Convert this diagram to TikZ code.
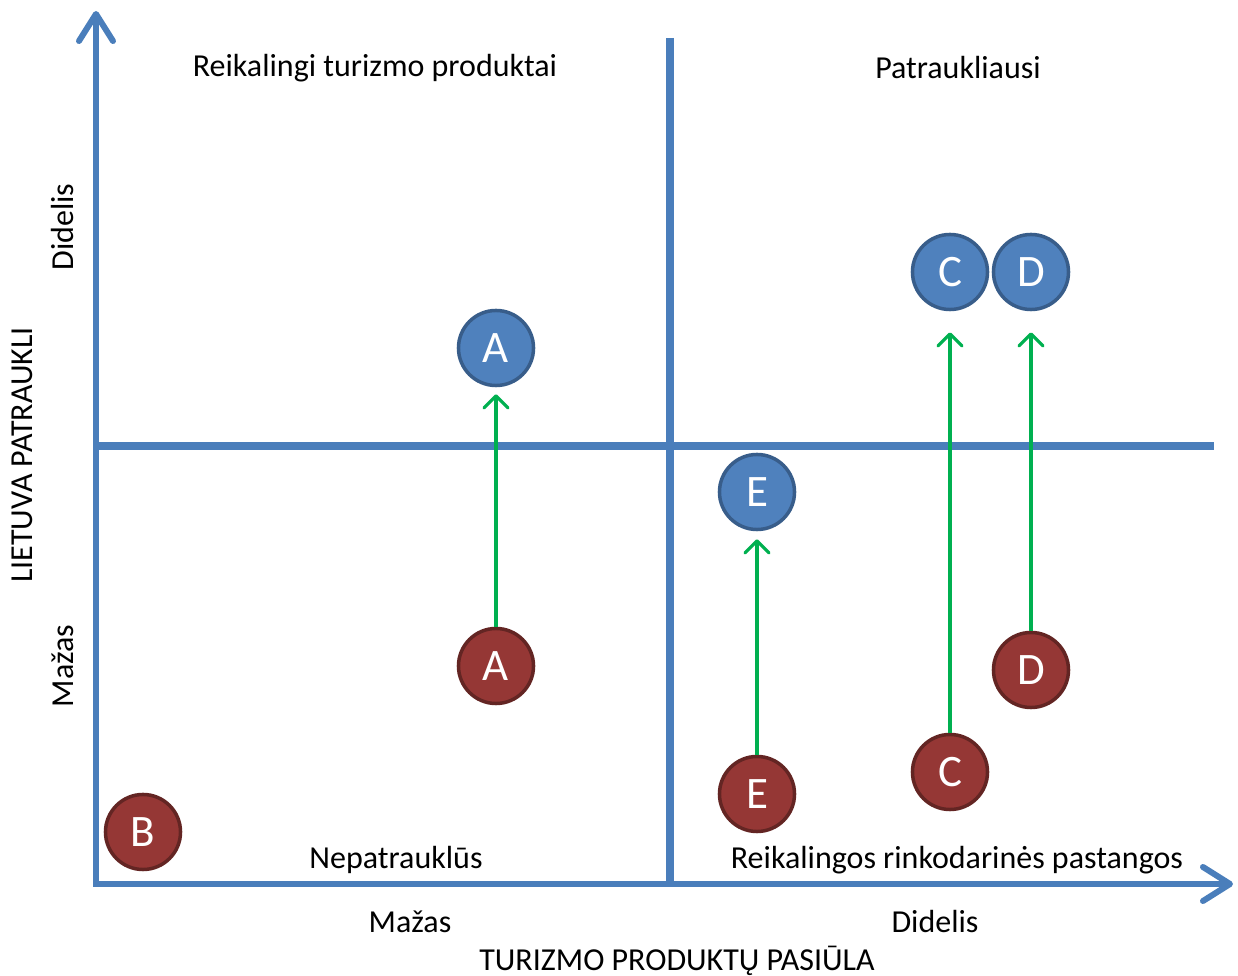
\documentclass[tikz,border=0pt]{standalone}
\usepackage{fontspec}
\setmainfont{Carlito}
\usetikzlibrary{arrows.meta}
\definecolor{axisblue}{HTML}{4A7EBB}
\definecolor{dotblue}{HTML}{4F81BD}
\definecolor{rimblue}{HTML}{385D8A}
\definecolor{dotred}{HTML}{953735}
\definecolor{rimred}{HTML}{632523}
\definecolor{shiftgreen}{HTML}{00B050}
\begin{document}
\begin{tikzpicture}[x=.01cm,y=-.01cm,
  axis/.style={draw=axisblue,line width=.06cm},
  divider/.style={draw=axisblue,line width=.08cm},
  dot/.style={circle,minimum size=.75cm,inner sep=0pt,line width=.035cm,text=white,font=\fontsize{12.8}{13}\selectfont},
  now/.style={dot,fill=dotred,draw=rimred},
  goal/.style={dot,fill=dotblue,draw=rimblue},
  move/.style={draw=shiftgreen,line width=.032cm,-{Straight Barb[round,length=.12cm,width=.24cm]}},
  lbl/.style={font=\fontsize{9.1}{11}\selectfont}]
\useasboundingbox (0,0) rectangle (1238,976);
\coordinate (o) at (96,884);
\coordinate (ytop) at (96,11);
\coordinate (xend) at (1233,884);
\draw[axis,{Straight Barb[round,length=.27cm,width=.34cm]}-{Straight Barb[round,length=.27cm,width=.34cm]}] (ytop)--(o)--(xend);
\draw[divider] (670,38)--(670,884);
\draw[divider] (96,446)--(1214,446);
\node[now] (A1) at (496,666) {A};
\node[now] (B1) at (143,832) {B};
\node[now] (C1) at (950,772) {C};
\node[now] (D1) at (1031,670) {D};
\node[now] (E1) at (757,794) {E};
\node[goal] (A2) at (496,348) {A};
\node[goal] (C2) at (950,272) {C};
\node[goal] (D2) at (1031,272) {D};
\node[goal] (E2) at (757,492) {E};
\foreach \p/\g in {A/.07,E/.08,C/.21,D/.21}{
  \draw[move,shorten >=\g cm] (\p1)--(\p2);
}
\node[lbl] (q1) at (375,68) {Reikalingi turizmo produktai};
\node[lbl] (q2) at (958,68) {Patraukliausi};
\node[lbl] (q3) at (396,860) {Nepatrauklūs};
\node[lbl] (q4) at (957,860) {Reikalingos rinkodarinės pastangos};
\node[lbl] (xlo) at (410,922) {Mažas};
\node[lbl] (xhi) at (935,922) {Didelis};
\node[lbl] (xt) at (677,961) {TURIZMO PRODUKTŲ PASIŪLA};
\node[lbl,rotate=90] (yhi) at (63,227) {Didelis};
\node[lbl,rotate=90] (ylo) at (63,666) {Mažas};
\node[lbl,rotate=90] (yt) at (22,455) {LIETUVA PATRAUKLI};
\end{tikzpicture}
\end{document}
